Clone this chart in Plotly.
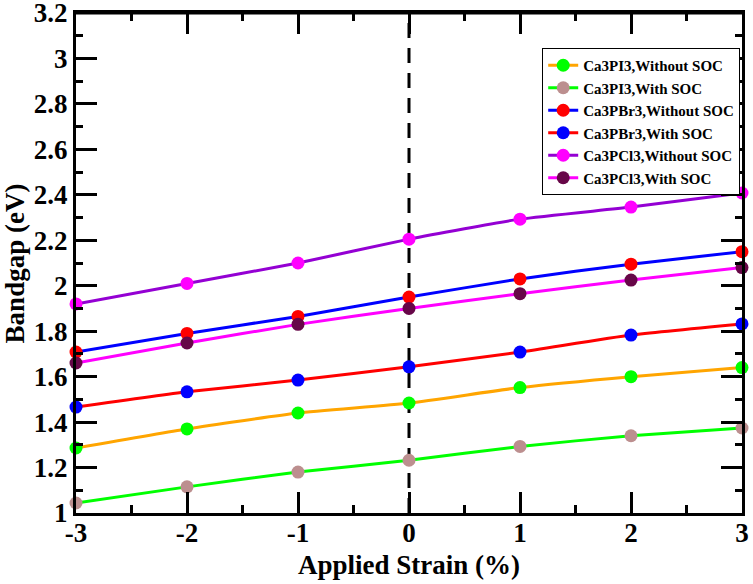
import plotly.graph_objects as go

strain = [-3, -2, -1, 0, 1, 2, 3]

ca3pi3_without = [1.286, 1.37, 1.44, 1.484, 1.552, 1.60, 1.64]
ca3pi3_with = [1.044, 1.115, 1.18, 1.232, 1.293, 1.34, 1.374]
ca3pbr3_without = [1.708, 1.79, 1.865, 1.95, 2.03, 2.095, 2.15]
ca3pbr3_with = [1.466, 1.533, 1.585, 1.643, 1.708, 1.783, 1.832]
ca3pcl3_without = [1.92, 2.01, 2.10, 2.205, 2.293, 2.346, 2.408]
ca3pcl3_with = [1.66, 1.748, 1.83, 1.90, 1.965, 2.025, 2.08]

names = ["Ca3PI3,Without SOC", "Ca3PI3,With SOC", "Ca3PBr3,Without SOC",
         "Ca3PBr3,With SOC", "Ca3PCl3,Without SOC", "Ca3PCl3,With SOC"]
series = [ca3pi3_without, ca3pi3_with, ca3pbr3_without, ca3pbr3_with,
          ca3pcl3_without, ca3pcl3_with]
line_colors = ["#FFA500", "#00FF00", "#0000FF", "#FF0000", "#9400D3", "#FF00FF"]
marker_colors = ["#00FF00", "#BC8F8F", "#FF0000", "#0000FF", "#FF00FF", "#670748"]

x_tickvals = [-3, -2, -1, 0, 1, 2, 3]
x_ticktext = ["-3", "-2", "-1", "0", "1", "2", "3"]
y_tickvals = [1.0, 1.2, 1.4, 1.6, 1.8, 2.0, 2.2, 2.4, 2.6, 2.8, 3.0, 3.2]
y_ticktext = ["1", "1.2", "1.4", "1.6", "1.8", "2", "2.2", "2.4", "2.6", "2.8", "3", "3.2"]
x_title = "Applied Strain (%)"
y_title = "Bandgap (eV)"

fig = go.Figure()
for name, ys, lc, mc in zip(names, series, line_colors, marker_colors):
    fig.add_trace(go.Scatter(
        x=strain, y=ys, name=name, mode="lines+markers",
        line=dict(color=lc, width=3, shape="spline", smoothing=0.5),
        marker=dict(color=mc, size=13),
        cliponaxis=False,
    ))

# dashed vertical line at zero strain
fig.add_shape(type="line", xref="x", yref="paper", x0=0, x1=0, y0=0, y1=1,
              line=dict(color="black", width=3, dash="15px,10px"), layer="below")
# top frame edge
fig.add_shape(type="line", xref="paper", yref="paper", x0=-0.003, x1=1.003, y0=1, y1=1,
              line=dict(color="black", width=3), layer="above")

font_family = "Liberation Serif, Times New Roman, serif"
title_font = dict(family=font_family, size=27, color="black", weight="bold")
tick_font = dict(family=font_family, size=27, color="black", weight="bold")

fig.update_layout(
    xaxis=dict(
        range=[-3, 3], tickmode="array", tickvals=x_tickvals, ticktext=x_ticktext,
        showline=True, linecolor="black", linewidth=3, mirror="ticks",
        ticks="inside", ticklen=21, tickwidth=3, tickcolor="black",
        minor=dict(ticks="inside", ticklen=8, tickwidth=3, tickcolor="black",
                   dtick=0.5, showgrid=False),
        showgrid=False, zeroline=False, ticklabeloverflow="allow",
        ticklabelstandoff=-6, automargin="bottom", tickfont=tick_font,
    ),
    xaxis2=dict(
        overlaying="x", side="top", anchor="y",
        range=[-3, 3], tickmode="array", tickvals=x_tickvals,
        showticklabels=False, showline=False,
        ticks="inside", ticklen=21, tickwidth=3, tickcolor="black",
        minor=dict(ticks="inside", ticklen=8, tickwidth=3, tickcolor="black",
                   dtick=0.5, showgrid=False),
        showgrid=False, zeroline=False, automargin=False,
    ),
    yaxis=dict(
        range=[1, 3.2], tickmode="array", tickvals=y_tickvals, ticktext=y_ticktext,
        showline=True, linecolor="black", linewidth=3, mirror="ticks",
        ticks="inside", ticklen=21, tickwidth=3, tickcolor="black",
        minor=dict(ticks="inside", ticklen=7, tickwidth=3, tickcolor="black",
                   dtick=0.1, showgrid=False),
        showgrid=False, zeroline=False, ticklabeloverflow="allow",
        automargin=False, tickfont=tick_font,
    ),
)

fig.add_annotation(text=x_title, xref="paper", yref="paper", x=0.5, y=-0.104,
                   xanchor="center", yanchor="middle", showarrow=False, font=title_font)
fig.add_annotation(text=y_title, xref="paper", yref="paper", x=-0.091, y=0.5,
                   xanchor="center", yanchor="middle", textangle=-90,
                   showarrow=False, font=title_font)

fig.update_layout(
    width=753, height=584,
    margin=dict(l=76, r=11, t=13, b=71),
    plot_bgcolor="white", paper_bgcolor="white",
    font=dict(family=font_family, color="black", weight="bold"),
    showlegend=True,
    legend=dict(
        x=0.70, y=0.93, xanchor="left", yanchor="top",
        bgcolor="white", bordercolor="black", borderwidth=1,
        font=dict(family=font_family, size=15, color="black", weight="bold"),
        itemwidth=30, tracegroupgap=0,
    ),
)

fig.write_html("out.html", config={"displayModeBar": False},
               post_script="document.body.style.margin='0';")
